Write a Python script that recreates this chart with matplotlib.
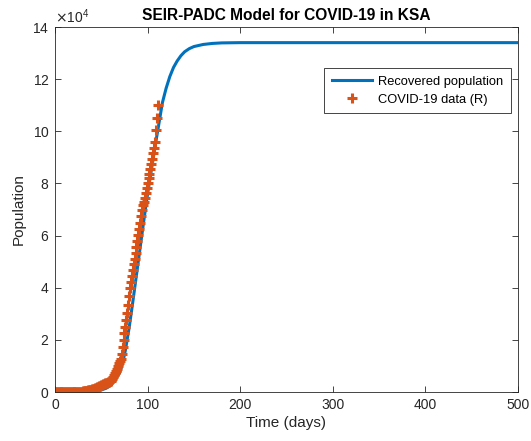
import matplotlib
matplotlib.use("Agg")
import matplotlib.pyplot as plt
from matplotlib.ticker import ScalarFormatter

plt.rcParams['font.family'] = ['Liberation Sans', 'DejaVu Sans']

# Model curve (recovered population), sampled days and values
model_days = [0, 10, 20, 30, 40, 45, 50, 55, 60, 65, 70, 73, 76, 80, 84, 88, 92, 96,
              100, 104, 108, 112, 116, 120, 124, 128, 132, 136, 140, 145, 150, 160,
              170, 180, 200, 300, 400, 500]
model_vals = [0, 5, 20, 80, 250, 450, 800, 1400, 2500, 4500, 7500, 11000, 16000,
              24500, 34500, 45000, 55500, 66000, 76000, 85000, 94000, 102500,
              111000, 116500, 121000, 124500, 127000, 129000, 130500, 131700,
              132500, 133300, 133700, 133900, 134000, 134000, 134000, 134000]

# COVID-19 data (R), one value per day from day 0
data_vals = [0, 0, 0, 0, 0, 0, 0, 0, 0, 0,
             0, 1, 1, 2, 6, 6, 8, 16, 29, 29,
             31, 33, 35, 35, 66, 66, 104, 114, 114, 165,
             239, 328, 351, 420, 488, 551, 631, 720, 761, 917,
             990, 1049, 1329, 1490, 1640, 1812, 1925, 2049, 2215, 2357,
             2531, 2784, 2963, 3163, 3300, 3450, 3600, 3780, 3950, 4150,
             4400, 4700, 5100, 5700, 6400, 7200, 8100, 9000, 10000, 11000,
             11900, 12700, 14700, 17300, 19900, 22500, 25100, 27700, 30300, 33400,
             36700, 40000, 42300, 44600, 46800, 49000, 51200, 53400, 55600, 57900,
             60200, 62500, 65000, 67600, 70000, 71600, 72800, 74300, 76200, 78200,
             80000, 81900, 83800, 85700, 87600, 89500, 91500, 93500, 96000, 100500,
             105200, 110000]
data_days = list(range(len(data_vals)))

xticks = [0, 100, 200, 300, 400, 500]
yticks = [0, 20000, 40000, 60000, 80000, 100000, 120000, 140000]

fig = plt.figure(figsize=(5.31, 4.41), dpi=100)
ax = fig.add_axes([55/531, 49/441, 463/531, 365/441])

ax.plot(model_days, model_vals, color='#0072BD', lw=2.2, label='Recovered population')
ax.plot(data_days, data_vals, linestyle='none', marker='+', color='#D95319',
        markersize=7, markeredgewidth=2.2, label='COVID-19 data (R)')

ax.set_xlim(0, 500)
ax.set_ylim(0, 140000)
ax.set_xticks(xticks)
ax.set_yticks(yticks)

fmt = ScalarFormatter(useMathText=True)
fmt.set_powerlimits((4, 4))
ax.yaxis.set_major_formatter(fmt)
ax.yaxis.get_offset_text().set_fontsize(10)
ax.yaxis.get_offset_text().set_color('#262626')

ax.tick_params(direction='in', top=True, right=True, length=4, width=0.6,
               labelsize=10, colors='#262626', pad=4)
for s in ax.spines.values():
    s.set_color('#262626')
    s.set_linewidth(0.6)

ax.set_xlabel('Time (days)', fontsize=11, color='#262626', labelpad=3)
ax.set_ylabel('Population', fontsize=11, color='#262626', labelpad=5)
ax.set_title('SEIR-PADC Model for COVID-19 in KSA', fontsize=11.2, fontweight='bold',
             color='black', pad=5)

leg = ax.legend(loc='upper right', bbox_to_anchor=(0.985, 0.888), fontsize=9.3,
                frameon=True, fancybox=False, edgecolor='#262626', framealpha=1,
                handlelength=3.1, borderpad=0.6, labelspacing=0.45, handletextpad=0.5,
                borderaxespad=0)
leg.get_frame().set_linewidth(0.6)

fig.savefig('out.png', dpi=100)
